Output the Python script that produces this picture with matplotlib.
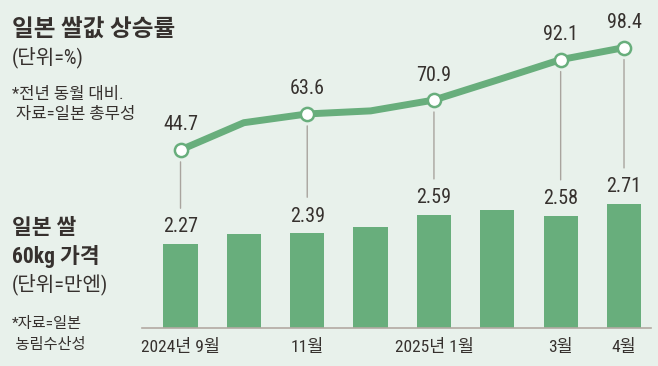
import numpy as np
import matplotlib.pyplot as plt

# 데이터
months = ['2024년 9월', '10월', '11월', '12월', '2025년 1월', '2월', '3월', '4월']
price = np.array([2.27, 2.38, 2.39, 2.46, 2.59, 2.64, 2.58, 2.71])   # 만엔/60kg
rate = np.array([44.7, 59.0, 63.6, 65.2, 70.9, 81.4, 92.1, 98.4])    # 전년 동월 대비 %
shown = [0, 2, 4, 6, 7]  # 라벨 붙는 달

BG = '#e8f1eb'
GREEN = '#68ae7c'
INK = '#36312e'
GRAY = '#a9a49e'

FAM = ['Roboto Condensed', 'Noto Sans CJK KR', 'DejaVu Sans']
plt.rcParams['font.family'] = FAM

W, H = 658, 366
fig = plt.figure(figsize=(W / 100, H / 100), dpi=100, facecolor=BG)

# 막대 (쌀 가격)
ax = fig.add_axes([142 / W, 38.3 / H, (651 - 142) / W, 327.7 / H])
ax.set_facecolor('none')
x = np.arange(len(months))
ax.bar(x, price, width=0.54, color=GREEN, zorder=2)
ax.set_xlim(-0.608, 7.426)
ax.set_ylim(1.36, 4.938)
for s in ['top', 'right', 'left']:
    ax.spines[s].set_visible(False)
ax.spines['bottom'].set_color('#b3aaa2')
ax.spines['bottom'].set_linewidth(1.2)
ax.set_yticks([])
ax.set_xticks(x[shown])
ax.set_xticklabels([months[i] for i in shown], fontsize=12.5, color=INK)
ax.tick_params(axis='x', length=0, pad=8)

# 선 (상승률)
ax2 = ax.twinx()
ax2.set_ylim(-48.6, 123.4)
ax2.axis('off')
ax2.plot(x, rate, color=GREEN, lw=5, solid_joinstyle='round', solid_capstyle='round', zorder=3)
ax2.plot(x[shown], rate[shown], 'o', ms=9.5, mfc='white', mec=GREEN, mew=1.8, zorder=4)

for i in shown:
    ax.annotate(f'{price[i]:.2f}', (x[i], price[i]), xytext=(0, 12.5), textcoords='offset points',
                ha='center', va='center', fontsize=14.5, color=INK)
    ax2.annotate(f'{rate[i]:.1f}', (x[i], rate[i]), xytext=(0, 18), textcoords='offset points',
                 ha='center', va='center', fontsize=14.5, color=INK)
    # 연결선
    ax2.annotate('', xy=(x[i], price[i]), xycoords=ax.transData,
                 xytext=(x[i], rate[i]), textcoords=ax2.transData,
                 arrowprops=dict(arrowstyle='-', color=GRAY, lw=1, shrinkA=8.6, shrinkB=26))

# 왼쪽 설명 글
def ftext(px, py, s, size, bold=False):
    fig.text(px / W, 1 - py / H, s, fontsize=size, fontweight='bold' if bold else 'normal',
             color=INK, ha='left', va='center')

ftext(12, 30, '일본 쌀값 상승률', 17, True)
ftext(12, 57, '(단위=%)', 14.5)
ftext(12, 94, '*전년 동월 대비.', 12)
ftext(12, 114, ' 자료=일본 총무성', 12)
ftext(12, 228, '일본 쌀', 15.5, True)
ftext(12, 257, '60kg 가격', 15.5, True)
ftext(12, 284, '(단위=만엔)', 14.5)
ftext(12, 324, '*자료=일본', 11)
ftext(12, 345, ' 농림수산성', 11)

fig.savefig('out.png', dpi=100, facecolor=BG)
